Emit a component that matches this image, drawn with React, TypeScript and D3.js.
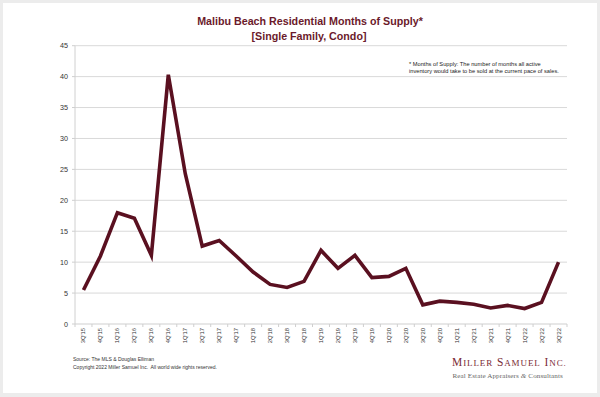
import React from 'react';
import * as d3 from 'd3';

const quarters = [
  "3Q'15", "4Q'15", "1Q'16", "2Q'16", "3Q'16", "4Q'16", "1Q'17", "2Q'17", "3Q'17", "4Q'17",
  "1Q'18", "2Q'18", "3Q'18", "4Q'18", "1Q'19", "2Q'19", "3Q'19", "4Q'19", "1Q'20", "2Q'20",
  "3Q'20", "4Q'20", "1Q'21", "2Q'21", "3Q'21", "4Q'21", "1Q'22", "2Q'22", "3Q'22",
];
const monthsSupply = [
  5.5, 11.0, 18.0, 17.1, 11.1, 40.3, 24.3, 12.6, 13.5, 11.0,
  8.4, 6.4, 5.9, 6.9, 11.9, 9.0, 11.1, 7.5, 7.7, 9.0,
  3.1, 3.7, 3.5, 3.2, 2.6, 3.0, 2.5, 3.5, 10.0,
];
const yTicks = [0, 5, 10, 15, 20, 25, 30, 35, 40, 45];

const W = 600;
const H = 397;
const left = 75;
const right = 567;
const top = 45.7;
const bottom = 324;

export default function App(): React.ReactElement {
  const x = d3.scaleBand<string>().domain(quarters).range([left, right]);
  const y = d3.scaleLinear().domain([0, 45]).range([bottom, top]);
  const line = d3.line<number>()
    .x((_, i) => (x(quarters[i]) ?? 0) + x.bandwidth() / 2)
    .y((d) => y(d));

  return (
    <svg width={W} height={H} style={{ position: 'absolute', left: 0, top: 0 }}
      fontFamily="'Liberation Sans', Arial, sans-serif">
      <rect x={0} y={0} width={W} height={H} fill="#ececec" />
      <rect x={3} y={3} width={594} height={390} fill="#ffffff" />

      <text x={310} y={25} textAnchor="middle" fontSize={10.7} fontWeight="bold" fill="#6b1a2b">
        Malibu Beach Residential Months of Supply*
      </text>
      <text x={309} y={39.5} textAnchor="middle" fontSize={10.7} fontWeight="bold" fill="#6b1a2b">
        [Single Family, Condo]
      </text>

      {yTicks.map((t) => (
        <g key={t}>
          {t > 0 && <line x1={left} x2={right} y1={y(t)} y2={y(t)} stroke="#d9d9d9" strokeWidth={1} />}
          <line x1={left - 3} x2={left} y1={y(t)} y2={y(t)} stroke="#cfcfcf" strokeWidth={1} />
          <text x={68} y={y(t) + 2.6} textAnchor="end" fontSize={7.2} fill="#333">{t}</text>
        </g>
      ))}
      <line x1={left} x2={left} y1={top} y2={bottom} stroke="#d0d0d0" strokeWidth={1} />
      <line x1={left} x2={right} y1={bottom} y2={bottom} stroke="#cfcfcf" strokeWidth={1} />

      {quarters.map((q) => {
        const cx = (x(q) ?? 0) + x.bandwidth() / 2;
        return (
          <g key={q}>
            <line x1={x(q) ?? 0} x2={x(q) ?? 0} y1={bottom} y2={bottom + 3} stroke="#cfcfcf" />
            <text transform={`translate(${cx + 2},${bottom + 4}) rotate(-90)`} textAnchor="end"
              fontSize={5.8} fill="#333">{q}</text>
          </g>
        );
      })}
      <line x1={right} x2={right} y1={bottom} y2={bottom + 3} stroke="#cfcfcf" />

      <path d={line(monthsSupply) ?? ''} fill="none" stroke="#5a1020" strokeWidth={3.6}
        strokeLinejoin="miter" />

      <text x={409} y={65.5} fontSize={5.7} fill="#222">
        * Months of Supply: The number of months all active
      </text>
      <text x={409} y={72.5} fontSize={5.7} fill="#222">
        inventory would take to be sold at the current pace of sales.
      </text>

      <text x={73} y={360.5} fontSize={5} fill="#333">Source: The MLS &amp; Douglas Elliman</text>
      <text x={73} y={369} fontSize={5} fill="#333" xmlSpace="preserve">
        Copyright 2022 Miller Samuel Inc.  All world wide rights reserved.
      </text>

      <text x={452} y={365.5} fontFamily="'Liberation Serif', 'Times New Roman', serif" fill="#7a2a35"
        fontSize={11.5} letterSpacing={0.9}>
        M<tspan fontSize={9}>ILLER</tspan> S<tspan fontSize={9}>AMUEL</tspan> I<tspan fontSize={9}>NC.</tspan>
      </text>
      <text x={452.5} y={378} fontFamily="'Liberation Serif', 'Times New Roman', serif" fill="#666"
        fontSize={7.1} letterSpacing={0.1}>
        Real Estate Appraisers <tspan fontStyle="italic">&amp;</tspan> Consultants
      </text>
    </svg>
  );
}
